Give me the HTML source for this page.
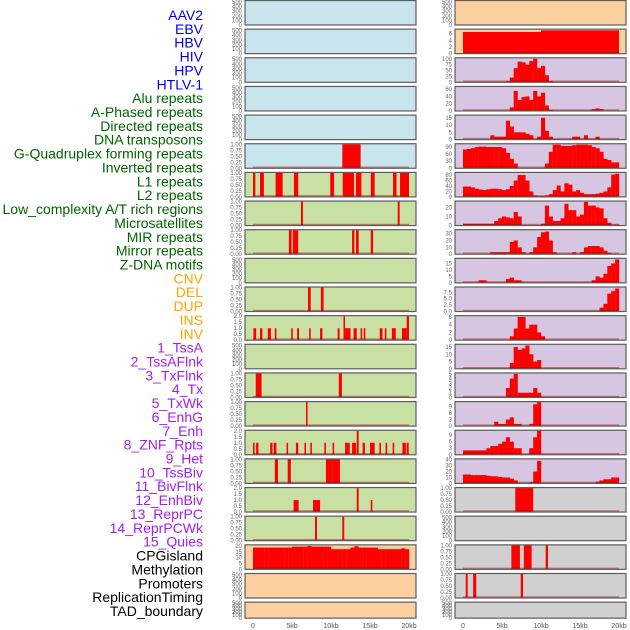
<!DOCTYPE html>
<html><head><meta charset="utf-8"><style>
html,body{margin:0;padding:0;background:#fff;}
svg{display:block;font-family:"Liberation Sans",sans-serif;}
</style></head><body>
<svg id="chart" width="630" height="630" viewBox="0 0 630 630"></svg>
<script>
// ---- label data ----
const trackLabels = ["AAV2","EBV","HBV","HIV","HPV","HTLV-1","Alu repeats","A-Phased repeats","Directed repeats","DNA transposons","G-Quadruplex forming repeats","Inverted repeats","L1 repeats","L2 repeats","Low_complexity A/T rich regions","Microsatellites","MIR repeats","Mirror repeats","Z-DNA motifs","CNV","DEL","DUP","INS","INV","1_TssA","2_TssAFlnk","3_TxFlnk","4_Tx","5_TxWk","6_EnhG","7_Enh","8_ZNF_Rpts","9_Het","10_TssBiv","11_BivFlnk","12_EnhBiv","13_ReprPC","14_ReprPCWk","15_Quies","CPGisland","Methylation","Promoters","ReplicationTiming","TAD_boundary"];
const labelGroups = [6,13,5,15,5];
const groupColors = ["#0000ee","#006400","#ffa500","#a020f0","#000000"];
const xTickValues = [0,5,10,15,20];
const xTickLabels = ["0","5kb","10kb","15kb","20kb"];

// ---- y tick sets ----
const ticks500 = [0,100,200,300,400,500];
const ticks1 = [0,0.25,0.5,0.75,1];
const ticks1Labels = ["0.00","0.25","0.50","0.75","1.00"];
const ticks2 = [0,0.5,1,1.5,2];
const ticks2Labels = ["0.0","0.5","1.0","1.5","2.0"];

// ---- left column segment data [startKb, endKb, value] ----
const leftR5 = [[11.45,13.8,1]];
const leftR6 = [[0,0.3,1],[0.9,1.4,1],[2.9,3.8,1],[5.25,5.8,1],[9.9,10.4,1],[11.5,12.95,1],[13.2,13.9,1],[15.1,15.6,1],[17.95,18.4,1],[18.85,20,1]];
const leftR7 = [[6.15,6.4,1],[18.55,18.8,1]];
const leftR8 = [[4.6,4.95,1],[5.1,5.8,1],[12.7,13.0,1],[13.2,13.55,1],[15.1,15.4,1]];
const leftR10 = [[7.05,7.4,1],[8.7,9.05,1]];
const leftR11 = [[0.05,0.4,1],[0.9,1.2,1],[1.9,2.3,1],[2.8,3.0,1],[4.9,5.1,1],[5.65,5.9,1],[7.2,7.4,1],[8.6,8.9,1],[10.85,11.1,1],[11.6,11.8,2],[11.8,12.5,1],[12.9,13.3,1],[13.8,14.0,1],[14.2,14.4,1],[16.25,16.6,1],[16.9,17.1,1],[17.8,18.3,1],[19.1,19.7,1],[19.7,20.0,2]];
const leftR13 = [[0.35,1.1,1],[11.0,11.4,1]];
const leftR14 = [[6.8,7.0,1]];
const leftR15 = [[0,0.2,1],[0.4,0.7,1],[2.2,2.5,1],[2.65,3.0,1],[4.3,4.5,1],[5.5,5.8,1],[6.6,6.8,1],[7.35,7.55,1],[9.15,9.35,1],[10.2,10.4,1],[11.8,12.4,1],[12.7,13.2,1],[13.3,13.55,2],[14.05,14.35,1],[15.0,15.6,1],[16.2,16.4,1],[17.0,17.2,1],[17.9,18.1,1],[19.15,19.6,1],[19.7,19.96,1]];
const leftR16 = [[2.8,3.2,1],[4.45,4.85,1],[9.35,10.2,1],[10.2,11.15,1]];
const leftR17 = [[5.2,5.85,1],[7.7,8.6,1],[13.3,13.55,2],[15.1,15.3,1]];
const leftR18 = [[7.95,8.2,1],[11.45,11.7,1]];
const cpgProfile = [18.6,18.6,18.6,18.6,18.6,18.6,18.6,18.6,18.6,18.6,19.4,19.4,19.4,19.4,20,19.4,19.4,19.4,19.4,19.4,17.2,17.2,17.2,17.2,17.2,18.6,19.8,18.6,18.6,18.6,18.6,18.6,17.2,17.2,17.2,17.2,17.2,17.2,18,17.2];

// ---- right column data ----
const ebvSegments = [[0,10,6.5],[10,20,7]];
const hivProfile = [0,0,0,0,0,0,0,0,0,0,0,5,20,60,88,85,75,90,100,60,70,30,5,0,0,0,0,0,0,0,0,0,0,0,0,0,0,0,0,0];
const hpvProfile = [0,0,0,0,0,0,0,0,0,0,0,0,10,55,30,38,40,30,55,40,50,15,3,0,0,0,0,0,0,0,0,0,0,5,7,5,0,0,0,0];
const htlvProfile = [0,0,0,0,0,0,0,3,2,2,2,13,9,5,5,5,4,3,0,2,15,6,2,0,0,0,0,0,2,2,0,3,0,0,2,0,0,0,0,0];
const aluProfile = [80,82,85,90,92,92,90,90,90,90,85,65,40,20,0,0,0,0,0,0,0,20,70,100,100,95,95,95,98,100,100,100,98,90,85,70,40,35,25,25];
const aphasedProfile = [38,38,35,30,27,25,28,30,30,28,25,28,40,60,80,80,60,20,5,3,3,5,10,25,42,20,50,45,20,25,15,10,10,10,12,15,20,35,82,85];
const directedProfile = [2,2,2,2,2,2,2,2,5,8,10,9,8,15,10,0,0,0,0,0,2,22,10,5,5,8,24,17,17,10,12,26,22,22,20,19,8,3,1,1];
const dnaTransProfile = [0,0,0,0,0,0,0,3,3,3,3,3,18,20,10,3,0,3,10,25,32,33,20,3,0,0,0,0,3,0,3,10,12,12,12,10,5,2,0,0];
const gquadProfile = [0,0,0,0,2,2,0,0,0,0,0,3,4,2,2,0,0,0,0,0,0,0,0,0,0,0,0,0,0,0,0,0,0,2,5,4,7,13,15,18];
const invertedProfile = [0,0,0,0,0,0,0,0,0,0,0,0,0,0,0,0,0,0,0,0,0,0,0,0,0,0,0,0,0,0,0,0,0,0,0,1.5,3,7,8,9];
const l1Profile = [0,0,0,0,0,0,0,0,0,0,0,0,1,3,6,6,3,4,4,2,1,0,0,0,0,0,0,0,0,0,0,0,0,0,0,0,0,0,0,0];
const l2Profile = [0,0,0,0,0,0,0,0,0,0,0,0,4,15,13,14,16,10,5,6,0,0,0,0,0,0,0,0,0,0,0,0,0,0,0,0,0,0,0,0];
const lowCompProfile = [0,0,0,0,0,0,0,0,0,0,0,2,4,5,1,1,1,1,2,1,0,0,0,0,0,0,0,0,0,0,0,0,0,0,0,0,0,0,0,0];
const microsatProfile = [0,0,0,0,0,0,0,0,2,1,1,3,4,1,1,0,0,1,10,11,0,0,0,0,0,0,0,0,0,0,0,0,0,0,0,0,0,0,0,0];
const mirProfile = [2,2,2,2,2,2,3,4,4,5,6,8,6,3,3,0,0,3,8,11,0,0,0,0,0,0,0,0,0,0,0,0,0,0,0,0,0,0,0,0];
const mirrorProfile = [15,15,14,14,14,14,13,12,12,11,10,10,8,5,0,0,0,2,20,38,0,0,0,0,0,0,0,0,0,0,0,0,0,0,3,5,7,7,10,10];
const rightR17 = [[6.7,9.0,1]];
const rightR19 = [[6.2,7.3,1],[7.8,8.8,1],[10.6,10.9,1]];
const rightR20 = [[0.35,0.6,1],[1.3,1.7,1],[7.4,7.7,1]];

const BLUE="#c8e4ec", GREEN="#c9e0a5", PEACH="#fdd09f", LAV="#d6c6e2", GRAY="#d0d0d0";
const panels = [
 // left column
 {r:0,c:0,bg:BLUE},{r:1,c:0,bg:BLUE},{r:2,c:0,bg:BLUE},{r:3,c:0,bg:BLUE},{r:4,c:0,bg:BLUE},
 {r:5,c:0,bg:BLUE,segs:leftR5,ticks:ticks1,tl:ticks1Labels,ymax:1},
 {r:6,c:0,bg:GREEN,segs:leftR6,ticks:ticks1,tl:ticks1Labels,ymax:1},
 {r:7,c:0,bg:GREEN,segs:leftR7,ticks:ticks1,tl:ticks1Labels,ymax:1},
 {r:8,c:0,bg:GREEN,segs:leftR8,ticks:ticks1,tl:ticks1Labels,ymax:1},
 {r:9,c:0,bg:GREEN},
 {r:10,c:0,bg:GREEN,segs:leftR10,ticks:ticks1,tl:ticks1Labels,ymax:1},
 {r:11,c:0,bg:GREEN,segs:leftR11,ticks:ticks2,tl:ticks2Labels,ymax:2},
 {r:12,c:0,bg:GREEN},
 {r:13,c:0,bg:GREEN,segs:leftR13,ticks:ticks1,tl:ticks1Labels,ymax:1},
 {r:14,c:0,bg:GREEN,segs:leftR14,ticks:ticks1,tl:ticks1Labels,ymax:1},
 {r:15,c:0,bg:GREEN,segs:leftR15,ticks:ticks2,tl:ticks2Labels,ymax:2},
 {r:16,c:0,bg:GREEN,segs:leftR16,ticks:ticks1,tl:ticks1Labels,ymax:1},
 {r:17,c:0,bg:GREEN,segs:leftR17,ticks:ticks2,tl:ticks2Labels,ymax:2},
 {r:18,c:0,bg:GREEN,segs:leftR18,ticks:ticks1,tl:ticks1Labels,ymax:1},
 {r:19,c:0,bg:PEACH,prof:cpgProfile,ticks:[0,5,10,15,20],ymax:20.5},
 {r:20,c:0,bg:PEACH},{r:21,c:0,bg:PEACH},
 // right column
 {r:0,c:1,bg:PEACH},
 {r:1,c:1,bg:PEACH,segs:ebvSegments,ticks:[0,2,4,6],ymax:7.2},
 {r:2,c:1,bg:LAV,prof:hivProfile,ticks:[0,25,50,75,100],ymax:102},
 {r:3,c:1,bg:LAV,prof:hpvProfile,ticks:[0,20,40,60],ymax:66},
 {r:4,c:1,bg:LAV,prof:htlvProfile,ticks:[0,5,10,15],ymax:16.5},
 {r:5,c:1,bg:LAV,prof:aluProfile,ticks:[0,30,60,90],ymax:102},
 {r:6,c:1,bg:LAV,prof:aphasedProfile,ticks:[0,20,40,60,80],ymax:88},
 {r:7,c:1,bg:LAV,prof:directedProfile,ticks:[0,10,20],ymax:26.5},
 {r:8,c:1,bg:LAV,prof:dnaTransProfile,ticks:[0,10,20,30],ymax:35},
 {r:9,c:1,bg:LAV,prof:gquadProfile,ticks:[0,5,10,15],ymax:18.5},
 {r:10,c:1,bg:LAV,prof:invertedProfile,ticks:[0,2.5,5,7.5],tl:["0.0","2.5","5.0","7.5"],ymax:9.4},
 {r:11,c:1,bg:LAV,prof:l1Profile,ticks:[0,2,4,6],ymax:6.2},
 {r:12,c:1,bg:LAV,prof:l2Profile,ticks:[0,5,10,15],ymax:16.5},
 {r:13,c:1,bg:LAV,prof:lowCompProfile,ticks:[0,1,2,3,4,5],ymax:5.1},
 {r:14,c:1,bg:LAV,prof:microsatProfile,ticks:[0,3,6,9],ymax:11},
 {r:15,c:1,bg:LAV,prof:mirProfile,ticks:[0,3,6,9],ymax:11},
 {r:16,c:1,bg:LAV,prof:mirrorProfile,ticks:[0,10,20,30,40],ymax:40.5},
 {r:17,c:1,bg:GRAY,segs:rightR17,ticks:ticks1,tl:ticks1Labels,ymax:1},
 {r:18,c:1,bg:GRAY},
 {r:19,c:1,bg:GRAY,segs:rightR19,ticks:ticks1,tl:ticks1Labels,ymax:1},
 {r:20,c:1,bg:GRAY,segs:rightR20,ticks:ticks1,tl:ticks1Labels,ymax:1},
 {r:21,c:1,bg:GRAY}
];

const NS="http://www.w3.org/2000/svg";
const svg=document.getElementById("chart");
const X0=[253,463], PL=[245,455], PW=171, KB=7.8, PITCH=28.65;
function xs(c,kb){return X0[c]+kb*KB;}
function rowTop(r){return r*PITCH+0.5;}
function rowH(r){return r===21?16:24.5;}
function mk(tag,attrs,parent){const e=document.createElementNS(NS,tag);for(const k in attrs)e.setAttribute(k,attrs[k]);(parent||svg).appendChild(e);return e;}

// left labels
let li=0;
labelGroups.forEach((n,g)=>{for(let k=0;k<n;k++,li++){
  const t=mk("text",{x:203,y:15+li*13.86+5,"text-anchor":"end","font-size":"14",fill:groupColors[g]});
  t.textContent=trackLabels[li];
  
  
}});

panels.forEach(p=>{
  const top=rowTop(p.r), h=rowH(p.r), bot=top+h;
  const ymax=p.ymax||520;
  const ys=v=>bot-v/ymax*(h-0.5);
  const g=mk("g",{});
  
  
  mk("rect",{x:PL[p.c],y:top,width:PW,height:h,fill:p.bg},g);
  if(p.segs){p.segs.forEach(s=>{
    const r=mk("rect",{x:xs(p.c,s[0]),y:ys(s[2]),width:Math.max(0.8,(s[1]-s[0])*KB),height:bot-ys(s[2]),fill:"#ff0000"},g);
    
    
  });}
  if(p.prof){p.prof.forEach((v,i)=>{ if(v<=0)return;
    const r=mk("rect",{x:xs(p.c,i*0.5),y:ys(v),width:0.5*KB+0.2,height:bot-ys(v),fill:"#ff0000"},g);
    
    
  });}
  if(p.segs||p.prof) mk("line",{x1:xs(p.c,0),x2:xs(p.c,20),y1:bot-1,y2:bot-1,stroke:"rgba(170,0,0,0.45)","stroke-width":1.5},g);
  mk("rect",{x:PL[p.c],y:top,width:PW,height:h,fill:"none",stroke:"#5d5d5d","stroke-width":1.2},g);
  const tv=p.ticks||ticks500, tl=p.tl||tv.map(String);
  tv.forEach((v,i)=>{
    const t=mk("text",{x:PL[p.c]-3,y:ys(v)+2,"text-anchor":"end","font-size":"6",fill:"#666"},g);
    t.textContent=tl[i];
  });
});

// x axes
[0,1].forEach(c=>{xTickValues.forEach((v,i)=>{
  const t=mk("text",{x:xs(c,v),y:628,"text-anchor":"middle","font-size":"7",fill:"#555"});
  t.textContent=xTickLabels[i];
  
  
});});
</script>
</body></html>
